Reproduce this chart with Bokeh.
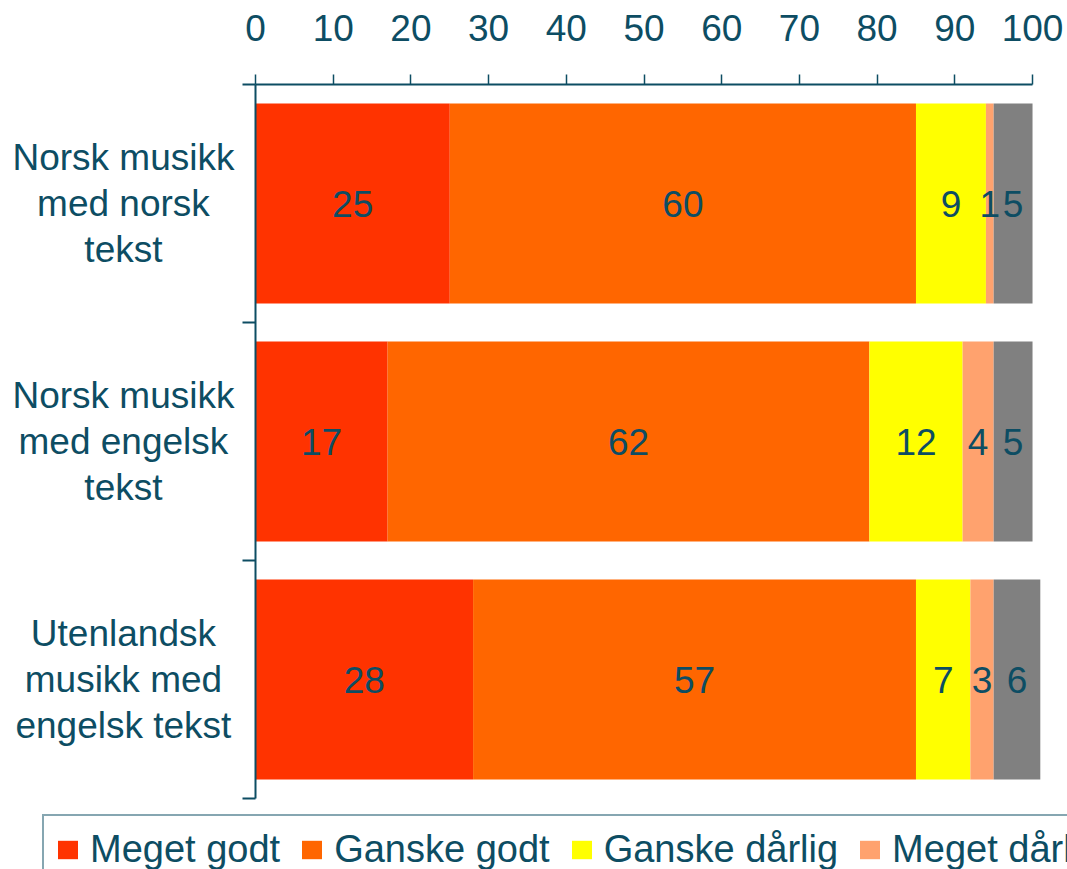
from bokeh.plotting import figure
from bokeh.models import Range1d, FixedTicker, ColumnDataSource, Legend, LegendItem
from bokeh.core.properties import value
from bokeh.embed import file_html
from bokeh.resources import INLINE

categories = ["Norsk musikk\nmed norsk\ntekst",
              "Norsk musikk\nmed engelsk\ntekst",
              "Utenlandsk\nmusikk med\nengelsk tekst"]
series_names = ["Meget godt", "Ganske godt", "Ganske dårlig", "Meget dårlig", "Vet ikke"]
meget_godt = [25, 17, 28]
ganske_godt = [60, 62, 57]
ganske_darlig = [9, 12, 7]
meget_darlig = [1, 4, 3]
vet_ikke = [5, 5, 6]
x_ticks = [0, 10, 20, 30, 40, 50, 60, 70, 80, 90, 100]

colors = ["#FF3300", "#FF6600", "#FFFF00", "#FFA26E", "#808080"]
series = [meget_godt, ganske_godt, ganske_darlig, meget_darlig, vet_ikke]

TXT = "#0d4d63"
FONT = "Liberation Sans"
FS = "37px"

p = figure(width=1067, height=869, output_backend="svg", toolbar_location=None,
           x_range=Range1d(-32.82, 104.5), y_range=Range1d(3.298, -0.353),
           x_axis_location="above", min_border_left=0, min_border_top=0,
           min_border_right=0, min_border_bottom=0)
p.outline_line_color = None
p.grid.visible = False
p.background_fill_color = "white"

centers = [0.5 + i for i in range(len(categories))]

renderers = []
left = [0] * len(categories)
label_x, label_y, label_t = [], [], []
for name, vals, col in zip(series_names, series, colors):
    right = [l + v for l, v in zip(left, vals)]
    src = ColumnDataSource(dict(y=centers, left=left, right=right))
    r = p.hbar(y="y", left="left", right="right", height=0.84, source=src,
               fill_color=col, line_color=None)
    renderers.append((name, r))
    for i, v in enumerate(vals):
        label_x.append(left[i] + v / 2)
        label_y.append(centers[i])
        label_t.append(str(v))
    left = right

p.text(x=label_x, y=label_y, text=label_t, text_align="center", text_baseline="middle",
       text_font=value(FONT), text_font_size=FS, text_color=TXT)

# category labels, centred multi-line, left of the value axis
p.text(x=[-17] * len(categories), y=centers, text=categories,
       text_align="center", text_baseline="middle", text_line_height=1.12,
       text_font=value(FONT), text_font_size=FS, text_color=TXT)

# x axis (top), pinned to the top of the bars' area
xa = p.xaxis[0]
xa.fixed_location = 0
xa.ticker = FixedTicker(ticks=x_ticks)
xa.bounds = (0, 100)
xa.axis_line_color = TXT
xa.axis_line_width = 2
xa.major_tick_line_color = TXT
xa.major_tick_line_width = 1.5
xa.major_tick_out = 10
xa.major_tick_in = 0
xa.minor_tick_line_color = None
xa.major_label_text_font = FONT
xa.major_label_text_font_size = FS
xa.major_label_text_color = TXT
xa.major_label_standoff = 34

# y axis (left), pinned at x = 0, ticks between categories
ya = p.yaxis[0]
ya.fixed_location = 0
ya.ticker = FixedTicker(ticks=[0, 1, 2, 3])
ya.bounds = (0, 3)
ya.major_label_text_color = None
ya.axis_line_color = TXT
ya.axis_line_width = 2
ya.major_tick_line_color = TXT
ya.major_tick_line_width = 2
ya.major_tick_out = 13
ya.major_tick_in = 0
ya.minor_tick_line_color = None

legend = Legend(items=[LegendItem(label=n, renderers=[r]) for n, r in renderers],
                orientation="horizontal", location=(42, -15),
                label_text_font=FONT, label_text_font_size="38px", label_text_color=TXT,
                glyph_width=25, glyph_height=23, label_standoff=10, spacing=19,
                padding=11, margin=0, border_line_color=TXT, border_line_width=2,
                background_fill_alpha=1.0, label_height=44)
p.add_layout(legend, "center")

open("out.html", "w").write(file_html(p, INLINE))
